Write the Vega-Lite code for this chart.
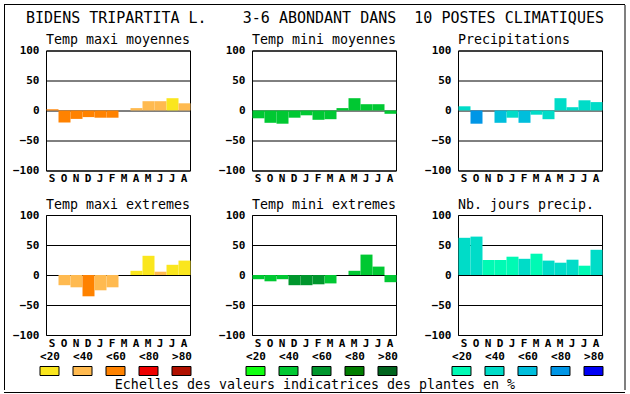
{
  "$schema": "https://vega.github.io/schema/vega-lite/v6.json",
  "padding": 4,
  "background": "white",
  "spacing": 0,
  "resolve": {"scale": {"color": "independent"}},
  "datasets": {
    "vide": [],
    "classes": [{"classe": "<20"}, {"classe": "<40"}, {"classe": "<60"}, {"classe": "<80"}, {"classe": ">80"}],
    "mesures": [
      {"graphique": "Temp maxi moyennes", "mois": "Sep", "valeur": 2, "classe": "<60"},
      {"graphique": "Temp maxi moyennes", "mois": "Oct", "valeur": -20, "classe": "<60"},
      {"graphique": "Temp maxi moyennes", "mois": "Nov", "valeur": -14, "classe": "<60"},
      {"graphique": "Temp maxi moyennes", "mois": "Dec", "valeur": -11, "classe": "<60"},
      {"graphique": "Temp maxi moyennes", "mois": "Jan", "valeur": -12, "classe": "<60"},
      {"graphique": "Temp maxi moyennes", "mois": "Fev", "valeur": -12, "classe": "<60"},
      {"graphique": "Temp maxi moyennes", "mois": "Mar", "valeur": 0, "classe": "<20"},
      {"graphique": "Temp maxi moyennes", "mois": "Avr", "valeur": 4, "classe": "<40"},
      {"graphique": "Temp maxi moyennes", "mois": "Mai", "valeur": 15.5, "classe": "<40"},
      {"graphique": "Temp maxi moyennes", "mois": "Juin", "valeur": 15.5, "classe": "<40"},
      {"graphique": "Temp maxi moyennes", "mois": "Juil", "valeur": 20.5, "classe": "<20"},
      {"graphique": "Temp maxi moyennes", "mois": "Aou", "valeur": 12, "classe": "<40"},

      {"graphique": "Temp mini moyennes", "mois": "Sep", "valeur": -13, "classe": "<40"},
      {"graphique": "Temp mini moyennes", "mois": "Oct", "valeur": -20.5, "classe": "<40"},
      {"graphique": "Temp mini moyennes", "mois": "Nov", "valeur": -22, "classe": "<40"},
      {"graphique": "Temp mini moyennes", "mois": "Dec", "valeur": -12, "classe": "<40"},
      {"graphique": "Temp mini moyennes", "mois": "Jan", "valeur": -8, "classe": "<40"},
      {"graphique": "Temp mini moyennes", "mois": "Fev", "valeur": -15.5, "classe": "<40"},
      {"graphique": "Temp mini moyennes", "mois": "Mar", "valeur": -14.5, "classe": "<40"},
      {"graphique": "Temp mini moyennes", "mois": "Avr", "valeur": 4, "classe": "<40"},
      {"graphique": "Temp mini moyennes", "mois": "Mai", "valeur": 20.5, "classe": "<40"},
      {"graphique": "Temp mini moyennes", "mois": "Juin", "valeur": 10.5, "classe": "<40"},
      {"graphique": "Temp mini moyennes", "mois": "Juil", "valeur": 10.5, "classe": "<40"},
      {"graphique": "Temp mini moyennes", "mois": "Aou", "valeur": -5.5, "classe": "<40"},

      {"graphique": "Precipitations", "mois": "Sep", "valeur": 7, "classe": "<40"},
      {"graphique": "Precipitations", "mois": "Oct", "valeur": -22, "classe": "<80"},
      {"graphique": "Precipitations", "mois": "Nov", "valeur": 0, "classe": "<40"},
      {"graphique": "Precipitations", "mois": "Dec", "valeur": -20.5, "classe": "<60"},
      {"graphique": "Precipitations", "mois": "Jan", "valeur": -12, "classe": "<40"},
      {"graphique": "Precipitations", "mois": "Fev", "valeur": -20.5, "classe": "<60"},
      {"graphique": "Precipitations", "mois": "Mar", "valeur": -7, "classe": "<40"},
      {"graphique": "Precipitations", "mois": "Avr", "valeur": -14.5, "classe": "<40"},
      {"graphique": "Precipitations", "mois": "Mai", "valeur": 20.5, "classe": "<40"},
      {"graphique": "Precipitations", "mois": "Juin", "valeur": 5.5, "classe": "<40"},
      {"graphique": "Precipitations", "mois": "Juil", "valeur": 17, "classe": "<40"},
      {"graphique": "Precipitations", "mois": "Aou", "valeur": 14, "classe": "<40"},

      {"graphique": "Temp maxi extremes", "mois": "Sep", "valeur": 0, "classe": "<40"},
      {"graphique": "Temp maxi extremes", "mois": "Oct", "valeur": -17, "classe": "<40"},
      {"graphique": "Temp maxi extremes", "mois": "Nov", "valeur": -20.5, "classe": "<40"},
      {"graphique": "Temp maxi extremes", "mois": "Dec", "valeur": -35.5, "classe": "<60"},
      {"graphique": "Temp maxi extremes", "mois": "Jan", "valeur": -25.5, "classe": "<40"},
      {"graphique": "Temp maxi extremes", "mois": "Fev", "valeur": -20.5, "classe": "<40"},
      {"graphique": "Temp maxi extremes", "mois": "Mar", "valeur": 0, "classe": "<20"},
      {"graphique": "Temp maxi extremes", "mois": "Avr", "valeur": 7, "classe": "<20"},
      {"graphique": "Temp maxi extremes", "mois": "Mai", "valeur": 32, "classe": "<20"},
      {"graphique": "Temp maxi extremes", "mois": "Juin", "valeur": 5.5, "classe": "<40"},
      {"graphique": "Temp maxi extremes", "mois": "Juil", "valeur": 17, "classe": "<20"},
      {"graphique": "Temp maxi extremes", "mois": "Aou", "valeur": 24, "classe": "<20"},

      {"graphique": "Temp mini extremes", "mois": "Sep", "valeur": -7, "classe": "<40"},
      {"graphique": "Temp mini extremes", "mois": "Oct", "valeur": -10.5, "classe": "<40"},
      {"graphique": "Temp mini extremes", "mois": "Nov", "valeur": -7, "classe": "<40"},
      {"graphique": "Temp mini extremes", "mois": "Dec", "valeur": -17, "classe": "<60"},
      {"graphique": "Temp mini extremes", "mois": "Jan", "valeur": -17, "classe": "<60"},
      {"graphique": "Temp mini extremes", "mois": "Fev", "valeur": -15.5, "classe": "<60"},
      {"graphique": "Temp mini extremes", "mois": "Mar", "valeur": -14, "classe": "<40"},
      {"graphique": "Temp mini extremes", "mois": "Avr", "valeur": 0, "classe": "<40"},
      {"graphique": "Temp mini extremes", "mois": "Mai", "valeur": 7, "classe": "<40"},
      {"graphique": "Temp mini extremes", "mois": "Juin", "valeur": 34, "classe": "<40"},
      {"graphique": "Temp mini extremes", "mois": "Juil", "valeur": 14, "classe": "<40"},
      {"graphique": "Temp mini extremes", "mois": "Aou", "valeur": -12, "classe": "<40"},

      {"graphique": "Nb. jours precip.", "mois": "Sep", "valeur": 62, "classe": "<40"},
      {"graphique": "Nb. jours precip.", "mois": "Oct", "valeur": 64, "classe": "<40"},
      {"graphique": "Nb. jours precip.", "mois": "Nov", "valeur": 25, "classe": "<20"},
      {"graphique": "Nb. jours precip.", "mois": "Dec", "valeur": 25, "classe": "<20"},
      {"graphique": "Nb. jours precip.", "mois": "Jan", "valeur": 30.5, "classe": "<20"},
      {"graphique": "Nb. jours precip.", "mois": "Fev", "valeur": 27, "classe": "<40"},
      {"graphique": "Nb. jours precip.", "mois": "Mar", "valeur": 35.5, "classe": "<20"},
      {"graphique": "Nb. jours precip.", "mois": "Avr", "valeur": 24, "classe": "<40"},
      {"graphique": "Nb. jours precip.", "mois": "Mai", "valeur": 20.5, "classe": "<40"},
      {"graphique": "Nb. jours precip.", "mois": "Juin", "valeur": 25.5, "classe": "<40"},
      {"graphique": "Nb. jours precip.", "mois": "Juil", "valeur": 15.5, "classe": "<20"},
      {"graphique": "Nb. jours precip.", "mois": "Aou", "valeur": 42, "classe": "<40"}
    ]
  },
  "vconcat": [
    {"width": 621, "height": 1, "view": {"fill": "black", "stroke": null}, "data": {"name": "vide"}, "mark": "point"},
    {
      "spacing": 7,
      "resolve": {"scale": {"color": "independent"}},
      "hconcat": [
        {"width": 1, "height": 385, "view": {"fill": "black", "stroke": null}, "data": {"name": "vide"}, "mark": "point"},
        {
          "spacing": 16.5,
          "resolve": {"scale": {"color": "independent"}},
          "hconcat": [
            {
              "spacing": 1.5,
              "resolve": {"scale": {"color": "independent"}},
              "vconcat": [
                {
                  "width": 538,
                  "height": 26,
                  "view": {"stroke": null},
                  "data": {"values": [{"titre": "BIDENS TRIPARTITA L.\u00a0\u00a0\u00a0\u00a03-6 ABONDANT DANS\u00a0\u00a010 POSTES CLIMATIQUES"}]},
                  "mark": {"type": "text", "font": "DejaVu Sans Mono", "fontSize": 15, "baseline": "middle", "color": "black"},
                  "encoding": {"text": {"field": "titre"}}
                },
                {
                  "spacing": 2,
                  "resolve": {"scale": {"color": "independent"}},
                  "vconcat": [
                    {
                      "spacing": 12.5,
                      "resolve": {"scale": {"color": "independent"}},
                      "vconcat": [
                        {
                          "bounds": "flush",
                          "spacing": 62,
                          "resolve": {"scale": {"color": "independent"}},
                          "hconcat": [
                            {
                              "width": 144, "height": 120, "title": "Temp maxi moyennes",
                              "data": {"name": "mesures"},
                              "transform": [{"filter": "datum.graphique === 'Temp maxi moyennes'"}],
                              "mark": {"type": "bar", "xOffset": 0.5},
                              "encoding": {
                                "x": {"field": "mois", "type": "ordinal", "sort": ["Sep","Oct","Nov","Dec","Jan","Fev","Mar","Avr","Mai","Juin","Juil","Aou"], "title": null, "axis": {"labelExpr": "upper(substring(datum.label, 0, 1))"}},
                                "y": {"field": "valeur", "type": "quantitative", "scale": {"domain": [-100, 100], "nice": false}, "title": null, "axis": {"values": [-100, -50, 0, 50, 100]}},
                                "color": {"field": "classe", "type": "ordinal", "scale": {"domain": ["<20","<40","<60","<80",">80"], "range": ["#FAE61E","#FFBA50","#FF8200","#EE0000","#B01000"]}, "legend": null}
                              }
                            },
                            {
                              "width": 144, "height": 120, "title": "Temp mini moyennes",
                              "data": {"name": "mesures"},
                              "transform": [{"filter": "datum.graphique === 'Temp mini moyennes'"}],
                              "mark": {"type": "bar", "xOffset": 0.5},
                              "encoding": {
                                "x": {"field": "mois", "type": "ordinal", "sort": ["Sep","Oct","Nov","Dec","Jan","Fev","Mar","Avr","Mai","Juin","Juil","Aou"], "title": null, "axis": {"labelExpr": "upper(substring(datum.label, 0, 1))"}},
                                "y": {"field": "valeur", "type": "quantitative", "scale": {"domain": [-100, 100], "nice": false}, "title": null, "axis": {"values": [-100, -50, 0, 50, 100]}},
                                "color": {"field": "classe", "type": "ordinal", "scale": {"domain": ["<20","<40","<60","<80",">80"], "range": ["#10FF10","#00C832","#00962D","#007D00","#00641E"]}, "legend": null}
                              }
                            },
                            {
                              "width": 144, "height": 120, "title": "Precipitations",
                              "data": {"name": "mesures"},
                              "transform": [{"filter": "datum.graphique === 'Precipitations'"}],
                              "mark": {"type": "bar", "xOffset": 0.5},
                              "encoding": {
                                "x": {"field": "mois", "type": "ordinal", "sort": ["Sep","Oct","Nov","Dec","Jan","Fev","Mar","Avr","Mai","Juin","Juil","Aou"], "title": null, "axis": {"labelExpr": "upper(substring(datum.label, 0, 1))"}},
                                "y": {"field": "valeur", "type": "quantitative", "scale": {"domain": [-100, 100], "nice": false}, "title": null, "axis": {"values": [-100, -50, 0, 50, 100]}},
                                "color": {"field": "classe", "type": "ordinal", "scale": {"domain": ["<20","<40","<60","<80",">80"], "range": ["#00FAB4","#00DCC8","#00BEDC","#0096E6","#0000F5"]}, "legend": null}
                              }
                            }
                          ]
                        },
                        {
                          "bounds": "flush",
                          "spacing": 62,
                          "resolve": {"scale": {"color": "independent"}},
                          "hconcat": [
                            {
                              "width": 144, "height": 120, "title": "Temp maxi extremes",
                              "data": {"name": "mesures"},
                              "transform": [{"filter": "datum.graphique === 'Temp maxi extremes'"}],
                              "mark": {"type": "bar", "xOffset": 0.5},
                              "encoding": {
                                "x": {"field": "mois", "type": "ordinal", "sort": ["Sep","Oct","Nov","Dec","Jan","Fev","Mar","Avr","Mai","Juin","Juil","Aou"], "title": null, "axis": {"labelExpr": "upper(substring(datum.label, 0, 1))"}},
                                "y": {"field": "valeur", "type": "quantitative", "scale": {"domain": [-100, 100], "nice": false}, "title": null, "axis": {"values": [-100, -50, 0, 50, 100]}},
                                "color": {"field": "classe", "type": "ordinal", "scale": {"domain": ["<20","<40","<60","<80",">80"], "range": ["#FAE61E","#FFBA50","#FF8200","#EE0000","#B01000"]}, "legend": null}
                              }
                            },
                            {
                              "width": 144, "height": 120, "title": "Temp mini extremes",
                              "data": {"name": "mesures"},
                              "transform": [{"filter": "datum.graphique === 'Temp mini extremes'"}],
                              "mark": {"type": "bar", "xOffset": 0.5},
                              "encoding": {
                                "x": {"field": "mois", "type": "ordinal", "sort": ["Sep","Oct","Nov","Dec","Jan","Fev","Mar","Avr","Mai","Juin","Juil","Aou"], "title": null, "axis": {"labelExpr": "upper(substring(datum.label, 0, 1))"}},
                                "y": {"field": "valeur", "type": "quantitative", "scale": {"domain": [-100, 100], "nice": false}, "title": null, "axis": {"values": [-100, -50, 0, 50, 100]}},
                                "color": {"field": "classe", "type": "ordinal", "scale": {"domain": ["<20","<40","<60","<80",">80"], "range": ["#10FF10","#00C832","#00962D","#007D00","#00641E"]}, "legend": null}
                              }
                            },
                            {
                              "width": 144, "height": 120, "title": "Nb. jours precip.",
                              "data": {"name": "mesures"},
                              "transform": [{"filter": "datum.graphique === 'Nb. jours precip.'"}],
                              "mark": {"type": "bar", "xOffset": 0.5},
                              "encoding": {
                                "x": {"field": "mois", "type": "ordinal", "sort": ["Sep","Oct","Nov","Dec","Jan","Fev","Mar","Avr","Mai","Juin","Juil","Aou"], "title": null, "axis": {"labelExpr": "upper(substring(datum.label, 0, 1))"}},
                                "y": {"field": "valeur", "type": "quantitative", "scale": {"domain": [-100, 100], "nice": false}, "title": null, "axis": {"values": [-100, -50, 0, 50, 100]}},
                                "color": {"field": "classe", "type": "ordinal", "scale": {"domain": ["<20","<40","<60","<80",">80"], "range": ["#00FAB4","#00DCC8","#00BEDC","#0096E6","#0000F5"]}, "legend": null}
                              }
                            }
                          ]
                        }
                      ]
                    },
                    {
                      "spacing": 1,
                      "resolve": {"scale": {"color": "independent"}},
                      "vconcat": [
                        {
                          "bounds": "flush",
                          "spacing": 62,
                          "resolve": {"scale": {"color": "independent"}},
                          "hconcat": [
                            {
                              "width": 144, "height": 9, "view": {"stroke": null},
                              "data": {"name": "classes"},
                              "mark": {"type": "bar", "width": 19, "stroke": "black", "strokeWidth": 1},
                              "encoding": {
                                "x": {"field": "classe", "type": "ordinal", "sort": ["<20","<40","<60","<80",">80"], "scale": {"type": "point", "padding": 0.18182, "align": 0.29167}, "title": null, "axis": {"orient": "top", "labelPadding": 7, "labelBaseline": "alphabetic", "grid": false}},
                                "color": {"field": "classe", "type": "ordinal", "scale": {"domain": ["<20","<40","<60","<80",">80"], "range": ["#FAE61E","#FFBA50","#FF8200","#EE0000","#B01000"]}, "legend": null}
                              }
                            },
                            {
                              "width": 144, "height": 9, "view": {"stroke": null},
                              "data": {"name": "classes"},
                              "mark": {"type": "bar", "width": 19, "stroke": "black", "strokeWidth": 1},
                              "encoding": {
                                "x": {"field": "classe", "type": "ordinal", "sort": ["<20","<40","<60","<80",">80"], "scale": {"type": "point", "padding": 0.18182, "align": 0.29167}, "title": null, "axis": {"orient": "top", "labelPadding": 7, "labelBaseline": "alphabetic", "grid": false}},
                                "color": {"field": "classe", "type": "ordinal", "scale": {"domain": ["<20","<40","<60","<80",">80"], "range": ["#10FF10","#00C832","#00962D","#007D00","#00641E"]}, "legend": null}
                              }
                            },
                            {
                              "width": 150, "height": 9, "view": {"stroke": null},
                              "data": {"name": "classes"},
                              "mark": {"type": "bar", "width": 19, "stroke": "black", "strokeWidth": 1},
                              "encoding": {
                                "x": {"field": "classe", "type": "ordinal", "sort": ["<20","<40","<60","<80",">80"], "scale": {"type": "point", "padding": 0.27273, "align": 0.19444}, "title": null, "axis": {"orient": "top", "labelPadding": 7, "labelBaseline": "alphabetic", "grid": false}},
                                "color": {"field": "classe", "type": "ordinal", "scale": {"domain": ["<20","<40","<60","<80",">80"], "range": ["#00FAB4","#00DCC8","#00BEDC","#0096E6","#0000F5"]}, "legend": null}
                              }
                            }
                          ]
                        },
                        {
                          "width": 538,
                          "height": 1,
                          "view": {"stroke": null},
                          "data": {"values": [{"texte": "Echelles des valeurs indicatrices des plantes en %"}]},
                          "mark": {"type": "text", "font": "DejaVu Sans Mono", "fontSize": 13.3, "baseline": "alphabetic", "color": "black"},
                          "encoding": {"text": {"field": "texte"}}
                        }
                      ]
                    }
                  ]
                }
              ]
            },
            {"width": 1, "height": 385, "view": {"fill": "black", "stroke": null}, "data": {"name": "vide"}, "mark": "point"}
          ]
        }
      ]
    },
    {"width": 621, "height": 1, "view": {"fill": "black", "stroke": null}, "data": {"name": "vide"}, "mark": "point"}
  ],
  "config": {
    "view": {"stroke": "black", "strokeWidth": 1},
    "font": "DejaVu Sans Mono",
    "scale": {"bandPaddingInner": 0, "bandPaddingOuter": 0},
    "axis": {"domain": false, "ticks": false, "labelFont": "DejaVu Sans Mono", "labelFontSize": 11, "labelFontWeight": "bold", "labelColor": "black", "labelFlush": false, "labelOverlap": false, "zindex": 1},
    "axisY": {"grid": true, "gridColor": "black", "gridOpacity": 1, "gridWidth": 1, "labelPadding": 7},
    "axisX": {"grid": false, "labelPadding": 2, "labelAngle": 0},
    "title": {"font": "DejaVu Sans Mono", "fontSize": 13.3, "fontWeight": "normal", "anchor": "start", "frame": "group", "offset": -2, "baseline": "alphabetic", "color": "black"}
  }
}
